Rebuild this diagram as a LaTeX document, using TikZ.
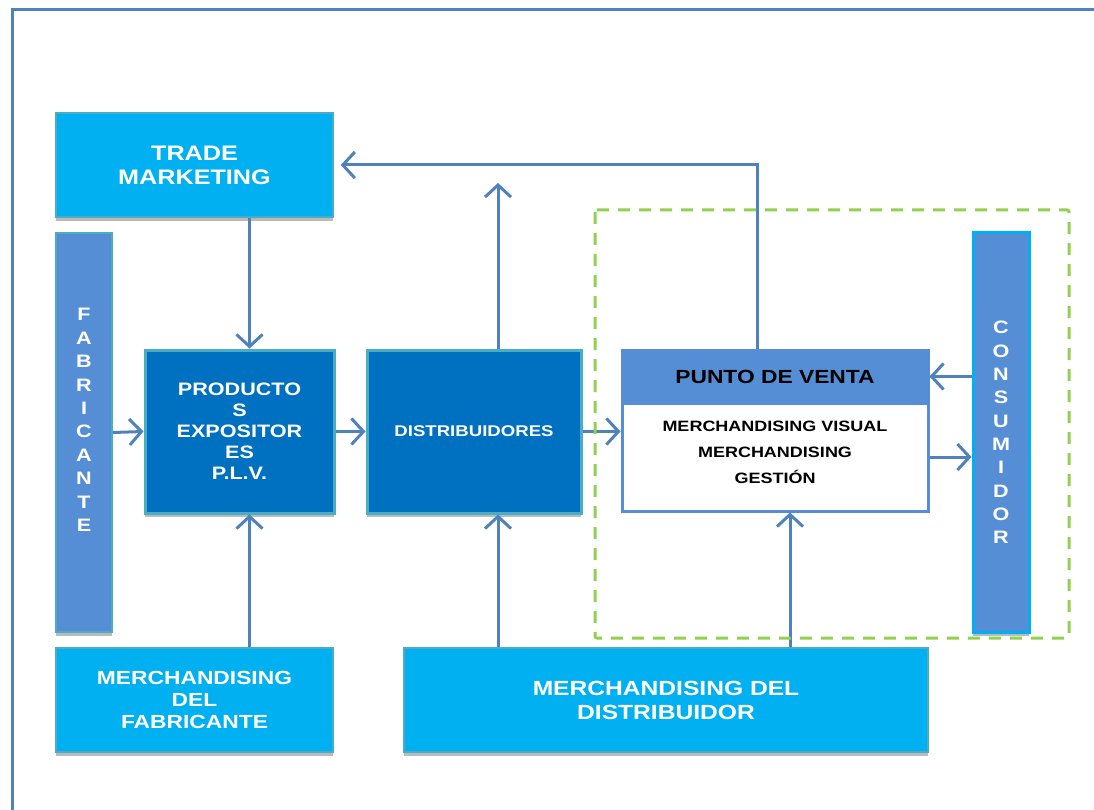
\documentclass[tikz,border=0pt]{standalone}
\usepackage{fontspec}
\setmainfont{Liberation Sans}[FakeStretch=1.2]
\usetikzlibrary{arrows.meta,shadows}
\definecolor{skyblue}{HTML}{00B0F0}
\definecolor{deepblue}{HTML}{0070C0}
\definecolor{steelblue}{HTML}{558ED5}
\definecolor{tealedge}{HTML}{4BACC6}
\definecolor{lineblue}{HTML}{4F81BD}
\definecolor{limegreen}{HTML}{92D050}
\newcommand{\fsz}[2]{\fontsize{#1}{#2}\selectfont\bfseries}

\begin{document}
\begin{tikzpicture}[
    x=1pt, y=-1pt,
    shade/.style = {drop shadow={shadow xshift=0pt, shadow yshift=-4pt, fill=black!45, opacity=0.6}},
    lightbox/.style = {rectangle, draw=tealedge, line width=1.5pt, fill=skyblue, text=white, align=center, inner sep=2pt, shade},
    darkbox/.style = {rectangle, draw=tealedge, line width=3pt, fill=deepblue, text=white, align=center, inner sep=2pt, shade},
    sidebar/.style = {rectangle, draw=skyblue, line width=3pt, fill=steelblue, text=white, align=center, minimum width=56pt, minimum height=399pt, inner sep=0pt, shade},
    arrow/.style = {draw=lineblue, line width=3pt, -{Straight Barb[length=12pt,width=26pt,line width=3pt]}},
    frame/.style = {draw=lineblue, line width=3pt},
    zone/.style = {draw=limegreen, line width=3pt, dash pattern=on 12pt off 9pt, rounded corners=2pt}
]
    \useasboundingbox (0,0) rectangle (1094,810);
    \path[frame] (12,10) rectangle (1120,840);

    \node[lightbox, minimum width=277pt, minimum height=104pt, font={\fsz{21}{24}}] (trade) at (194.5,165) {TRADE\\MARKETING};
    \node[sidebar, draw=tealedge, line width=2pt, font={\fsz{18}{23.4}}] (fab) at (84,432.5) {F\\A\\B\\R\\I\\C\\A\\N\\T\\E\\[1.5pt]\mbox{}};
    \node[darkbox, minimum width=189pt, minimum height=163pt, font={\fsz{18}{21}}] (prod) at (239.5,431.5) {PRODUCTO\\S\\EXPOSITOR\\ES\\P.L.V.};
    \node[darkbox, minimum width=214pt, minimum height=163pt, font={\fsz{15.5}{18}}] (dist) at (474,431.5) {DISTRIBUIDORES};

    \node[rectangle, draw=steelblue, line width=3pt, fill=steelblue, minimum width=306pt, minimum height=53pt, font={\fsz{19}{22}}] (pvh) at (775,376.5) {PUNTO DE VENTA};
    \node[rectangle, draw=steelblue, line width=3pt, fill=white, align=center, minimum width=306pt, minimum height=108pt, font={\fsz{15}{26}}] (pvb) at (775,457) {MERCHANDISING VISUAL\\MERCHANDISING\\GESTIÓN\\[-16pt]\mbox{}};

    \node[sidebar, font={\fsz{18}{23.3}}] (cons) at (1001,432.5) {C\\O\\N\\S\\U\\M\\I\\D\\O\\R};

    \node[lightbox, minimum width=277pt, minimum height=104pt, font={\fsz{19}{22}}] (mfab) at (194.5,700) {MERCHANDISING\\DEL\\FABRICANTE};
    \node[lightbox, minimum width=524pt, minimum height=104pt, font={\fsz{20.5}{24}}] (mdist) at (666,700) {MERCHANDISING DEL\\DISTRIBUIDOR};

    \coordinate (dtop) at (498,183);

    \path[arrow] ([xshift=-18pt]pvh.north) |- ([xshift=7pt]trade.east);
    \path[arrow] ([xshift=10pt]prod.north |- trade.south) -- ([xshift=10pt]prod.north);
    \path[arrow] (fab.east) -- (prod.west);
    \path[arrow] (prod.east) -- (dist.west);
    \path[arrow] ([xshift=24pt]dist.north) -- (dtop);
    \path[arrow] (dist.east) -- (dist.east -| pvb.west);
    \path[arrow] (cons.west |- pvh.east) -- (pvh.east);
    \path[arrow] (pvb.east) -- (pvb.east -| cons.west);
    \path[arrow] ([xshift=10pt]prod.south |- mfab.north) -- ([xshift=10pt]prod.south);
    \path[arrow] ([xshift=24pt]dist.south |- mdist.north) -- ([xshift=24pt]dist.south);
    \path[arrow] ([xshift=15pt]pvb.south |- mdist.north) -- ([xshift=15pt]pvb.south);

    \path[zone] (595,210) rectangle (1069,638);
\end{tikzpicture}
\end{document}
